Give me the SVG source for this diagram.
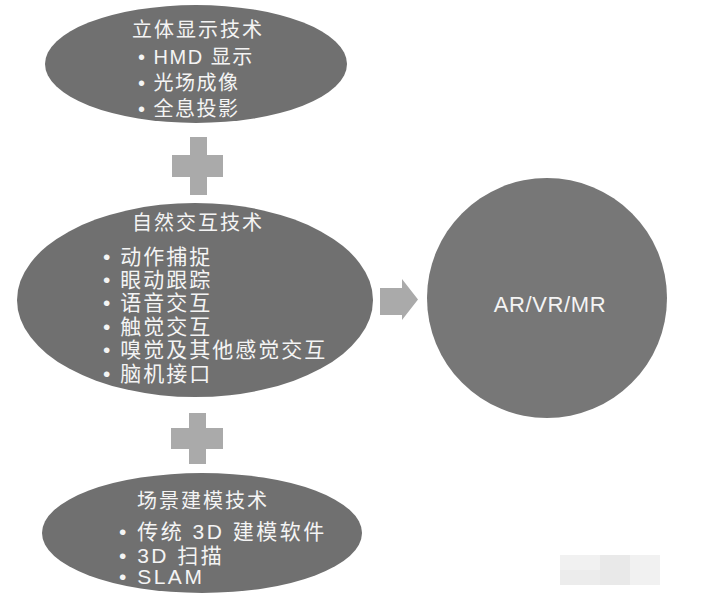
<svg xmlns="http://www.w3.org/2000/svg" width="711" height="608" viewBox="0 0 711 608">
  <style>
    .node { fill: #707070; }
    .hub { fill: #777777; }
    .t { fill: #f4f4f4; font-family: "Liberation Sans", "Noto Sans CJK SC", sans-serif; }
    .title { font-size: 20px; letter-spacing: 2px; text-anchor: middle; }
    .item { font-size: 20px; letter-spacing: 1.5px; }
    .mid { font-size: 21px; letter-spacing: 2px; }
    .low { font-size: 21px; letter-spacing: 2.5px; }
    .plus { fill: #aaaaaa; }
    .arrow { fill: #aaaaaa; }
  </style>
  <rect width="711" height="608" fill="#ffffff"/>

  <g id="connectors">
    <g id="plus-top" class="plus">
      <rect x="172" y="155" width="51" height="22"/>
      <rect x="190" y="137" width="17" height="58"/>
    </g>
    <g id="plus-bottom" class="plus">
      <rect x="171" y="428" width="52" height="21"/>
      <rect x="189" y="413" width="17" height="51"/>
    </g>
    <polygon id="arrow" class="arrow" points="380,288 402,288 402,279 418,299.5 402,320 402,315 380,315"/>
  </g>

  <g id="node-display">
    <ellipse class="node" cx="196" cy="64" rx="151" ry="59"/>
    <text class="t title" x="198" y="37">立体显示技术</text>
    <text class="t item" x="138" y="64">• HMD 显示</text>
    <text class="t item" x="138" y="90">• 光场成像</text>
    <text class="t item" x="138" y="116">• 全息投影</text>
  </g>

  <g id="node-interaction">
    <ellipse class="node" cx="195" cy="300" rx="178" ry="97"/>
    <text class="t title" x="198" y="230">自然交互技术</text>
    <text class="t mid" x="103" y="264">• 动作捕捉</text>
    <text class="t mid" x="103" y="287">• 眼动跟踪</text>
    <text class="t mid" x="103" y="310">• 语音交互</text>
    <text class="t mid" x="103" y="334">• 触觉交互</text>
    <text class="t mid" x="103" y="357">• 嗅觉及其他感觉交互</text>
    <text class="t mid" x="103" y="381">• 脑机接口</text>
  </g>

  <g id="node-modeling">
    <ellipse class="node" cx="202" cy="533" rx="160" ry="60"/>
    <text class="t title" x="203" y="508" font-size="21" letter-spacing="3">场景建模技术</text>
    <text class="t low" x="119" y="539">• 传统 3D 建模软件</text>
    <text class="t low" x="119" y="563">• 3D 扫描</text>
    <text class="t low" x="119" y="584">• SLAM</text>
  </g>

  <g id="node-result">
    <circle class="hub" cx="547" cy="298" r="120"/>
    <text class="t" x="550" y="312" font-size="22" letter-spacing="0.6" text-anchor="middle">AR/VR/MR</text>
  </g>

  <g id="watermark" opacity="0.7">
    <rect x="560" y="555" width="40" height="15" fill="#ececec"/>
    <rect x="600" y="555" width="30" height="30" fill="#e0e0e0"/>
    <rect x="630" y="555" width="30" height="30" fill="#ececec"/>
    <rect x="560" y="570" width="40" height="15" fill="#e4e4e4"/>
  </g>
</svg>
